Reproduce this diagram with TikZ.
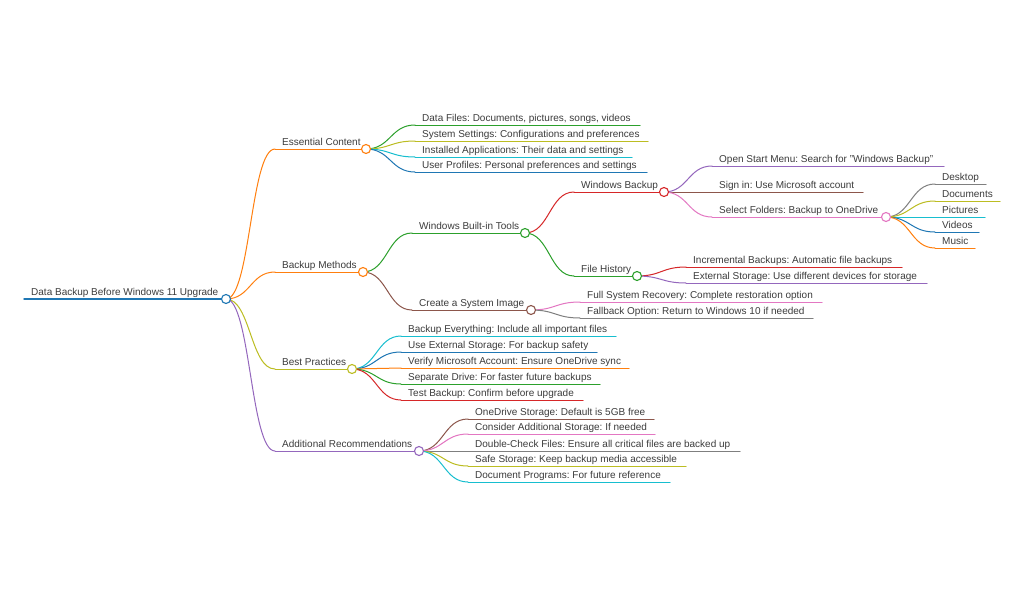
\documentclass[tikz,border=0pt]{standalone}
\usepackage{fontspec}
\setmainfont{Liberation Sans}
\usetikzlibrary{calc}
\frenchspacing
\definecolor{mblue}{RGB}{31,119,180}
\definecolor{morange}{RGB}{255,127,14}
\definecolor{mgreen}{RGB}{44,160,44}
\definecolor{mred}{RGB}{214,39,40}
\definecolor{mpurple}{RGB}{148,103,189}
\definecolor{mbrown}{RGB}{140,86,75}
\definecolor{mpink}{RGB}{227,119,194}
\definecolor{mgray}{RGB}{127,127,127}
\definecolor{molive}{RGB}{188,189,34}
\definecolor{mcyan}{RGB}{23,190,207}
\definecolor{mtext}{RGB}{60,60,60}
\tikzset{
  lbl/.style={anchor=base west, inner sep=0pt, font=\fontsize{10}{12}\selectfont, text=mtext},
  br/.style={line width=1pt, line cap=round},
  dot/.style={circle, draw, fill=white, line width=1.1pt, minimum size=9pt, inner sep=0pt}
}
% #1 name, #2 xs, #3 xe, #4 y, #5 colour, #6 text
\newcommand\mmitem[6]{%
  \coordinate (#1s) at (#2,#4);
  \coordinate (#1e) at (#3,#4);
  \node[lbl] (#1) at ($(#2,#4)+(7,-3.5)$) {#6};
  \draw[br,#5] (#1s) -- (#1e);}
% #1 parent end, #2 child start, #3 colour
\newcommand\mmlink[3]{%
  \coordinate (mmtmp) at ($(#1)!0.5!(#2)$);
  \draw[br,#3] (#1) .. controls (mmtmp |- #1) and (mmtmp |- #2) .. (#2);}
\newcommand\mmdot[2]{\node[dot,draw=#2] (#1c) at (#1e) {};}
\begin{document}
\begin{tikzpicture}[x=1pt,y=-1pt]
\useasboundingbox (0,0) rectangle (1024,594);
\fill[white] (0,0) rectangle (1024,594);
% root
\mmitem{R}{24}{226}{299}{mblue,line width=1.5pt}{Data Backup Before Windows 11 Upgrade}
% level 1
\mmitem{EC}{275}{366}{149}{morange}{Essential Content}
\mmitem{BM}{275}{363}{272}{morange}{Backup Methods}
\mmitem{BP}{275}{352}{369}{molive}{Best Practices}
\mmitem{AR}{275}{419}{451}{mpurple}{Additional Recommendations}
% Essential content
\mmitem{DF}{415}{640}{125}{mgreen}{Data Files: Documents, pictures, songs, videos}
\mmitem{SS}{415}{648}{141}{molive}{System Settings: Configurations and preferences}
\mmitem{IA}{415}{632}{157}{mcyan}{Installed Applications: Their data and settings}
\mmitem{UP}{415}{647}{172}{mblue}{User Profiles: Personal preferences and settings}
% Backup methods
\mmitem{WT}{412}{525}{233}{mgreen}{Windows Built-in Tools}
\mmitem{SI}{412}{531}{310}{mbrown}{Create a System Image}
\mmitem{WB}{574}{664}{192}{mred}{Windows Backup}
\mmitem{FH}{574}{637}{276}{mgreen}{File History}
\mmitem{OS}{712}{944}{166}{mpurple}{Open Start Menu: Search for "Windows Backup"}
\mmitem{SG}{712}{863}{192}{mbrown}{Sign in: Use Microsoft account}
\mmitem{SF}{712}{886}{217}{mpink}{Select Folders: Backup to OneDrive}
\mmitem{FD}{935}{986}{184}{mgray}{Desktop}
\mmitem{FO}{935}{1000}{201}{molive}{Documents}
\mmitem{FP}{935}{985}{217}{mcyan}{Pictures}
\mmitem{FV}{935}{979}{232}{mblue}{Videos}
\mmitem{FM}{935}{975}{248}{morange}{Music}
\mmitem{IB}{686}{902}{267}{mred}{Incremental Backups: Automatic file backups}
\mmitem{ES}{686}{927}{283}{mpurple}{External Storage: Use different devices for storage}
\mmitem{SR}{580}{822}{302}{mpink}{Full System Recovery: Complete restoration option}
\mmitem{SB}{580}{813}{318}{mgray}{Fallback Option: Return to Windows 10 if needed}
% Best practices
\mmitem{BE}{401}{616}{336}{mcyan}{Backup Everything: Include all important files}
\mmitem{UE}{401}{597}{352}{mblue}{Use External Storage: For backup safety}
\mmitem{VM}{401}{629}{368}{morange}{Verify Microsoft Account: Ensure OneDrive sync}
\mmitem{SD}{401}{600}{384}{mgreen}{Separate Drive: For faster future backups}
\mmitem{TB}{401}{583}{400}{mred}{Test Backup: Confirm before upgrade}
% Additional recommendations
\mmitem{OD}{468}{654}{419}{mbrown}{OneDrive Storage: Default is 5GB free}
\mmitem{CA}{468}{655}{434}{mpink}{Consider Additional Storage: If needed}
\mmitem{DC}{468}{740}{451}{mgray}{Double-Check Files: Ensure all critical files are backed up}
\mmitem{SS2}{468}{686}{466}{molive}{Safe Storage: Keep backup media accessible}
\mmitem{DP}{468}{670}{482}{mcyan}{Document Programs: For future reference}
% links
\mmlink{Re}{ECs}{morange}
\mmlink{Re}{BMs}{morange}
\mmlink{Re}{BPs}{molive}
\mmlink{Re}{ARs}{mpurple}
\mmlink{ECe}{DFs}{mgreen}
\mmlink{ECe}{SSs}{molive}
\mmlink{ECe}{IAs}{mcyan}
\mmlink{ECe}{UPs}{mblue}
\mmlink{BMe}{WTs}{mgreen}
\mmlink{BMe}{SIs}{mbrown}
\mmlink{WTe}{WBs}{mred}
\mmlink{WTe}{FHs}{mgreen}
\mmlink{WBe}{OSs}{mpurple}
\mmlink{WBe}{SGs}{mbrown}
\mmlink{WBe}{SFs}{mpink}
\mmlink{SFe}{FDs}{mgray}
\mmlink{SFe}{FOs}{molive}
\mmlink{SFe}{FPs}{mcyan}
\mmlink{SFe}{FVs}{mblue}
\mmlink{SFe}{FMs}{morange}
\mmlink{FHe}{IBs}{mred}
\mmlink{FHe}{ESs}{mpurple}
\mmlink{SIe}{SRs}{mpink}
\mmlink{SIe}{SBs}{mgray}
\mmlink{BPe}{BEs}{mcyan}
\mmlink{BPe}{UEs}{mblue}
\mmlink{BPe}{VMs}{morange}
\mmlink{BPe}{SDs}{mgreen}
\mmlink{BPe}{TBs}{mred}
\mmlink{ARe}{ODs}{mbrown}
\mmlink{ARe}{CAs}{mpink}
\mmlink{ARe}{DCs}{mgray}
\mmlink{ARe}{SS2s}{molive}
\mmlink{ARe}{DPs}{mcyan}
% circles
\mmdot{R}{mblue}
\mmdot{EC}{morange}
\mmdot{BM}{morange}
\mmdot{BP}{molive}
\mmdot{AR}{mpurple}
\mmdot{WT}{mgreen}
\mmdot{SI}{mbrown}
\mmdot{WB}{mred}
\mmdot{FH}{mgreen}
\mmdot{SF}{mpink}
\end{tikzpicture}
\end{document}
